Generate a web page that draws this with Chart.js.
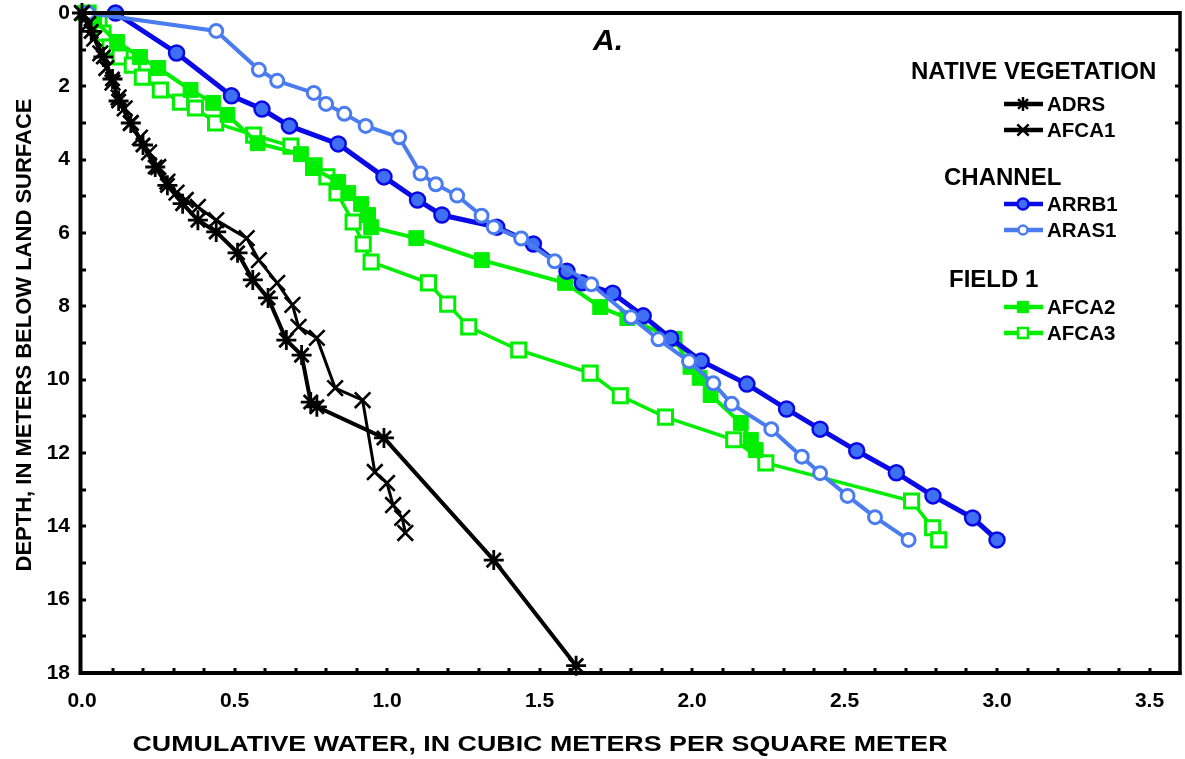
<!DOCTYPE html>
<html>
<head>
<meta charset="utf-8">
<script src="https://cdn.jsdelivr.net/npm/chart.js@4.4.0/dist/chart.umd.min.js"></script>
<style>
  html, body { margin: 0; padding: 0; background: #fff; overflow: hidden; }
  canvas { display: block; }
</style>
</head>
<body>
<canvas id="c" width="1185" height="759"></canvas>
<script>
// Cumulative water (m3/m2) against depth below land surface (m)
const adrsWater   = [0.00, 0.03, 0.07, 0.10, 0.12, 0.16, 0.20, 0.24, 0.28, 0.33, 0.38, 0.44, 0.51, 0.56, 0.61, 0.67, 0.72, 0.75, 0.77, 0.99, 1.35, 1.62];
const adrsDepth   = [0.00, 0.50, 1.20, 1.80, 2.40, 3.00, 3.60, 4.20, 4.70, 5.20, 5.65, 5.97, 6.54, 7.28, 7.77, 8.92, 9.33, 10.61, 10.74, 11.59, 14.92, 17.80];

const afca1Water  = [0.00, 0.02, 0.04, 0.06, 0.08, 0.10, 0.12, 0.14, 0.16, 0.19, 0.22, 0.25, 0.28, 0.31, 0.34, 0.38, 0.44, 0.54, 0.58, 0.64, 0.69, 0.71, 0.77, 0.83, 0.92, 0.96, 1.00, 1.02, 1.05, 1.06];
const afca1Depth  = [0.00, 0.30, 0.70, 1.10, 1.50, 1.90, 2.30, 2.60, 3.00, 3.40, 3.80, 4.20, 4.60, 4.90, 5.10, 5.29, 5.65, 6.14, 6.74, 7.36, 7.96, 8.56, 8.86, 10.23, 10.56, 12.52, 12.82, 13.42, 13.77, 14.18];

const arrb1Water  = [0.11, 0.31, 0.49, 0.59, 0.68, 0.84, 0.99, 1.10, 1.18, 1.36, 1.48, 1.59, 1.64, 1.74, 1.84, 1.93, 2.03, 2.18, 2.31, 2.42, 2.54, 2.67, 2.79, 2.92, 3.00];
const arrb1Depth  = [0.00, 1.09, 2.26, 2.62, 3.08, 3.57, 4.47, 5.10, 5.51, 5.84, 6.30, 7.04, 7.36, 7.64, 8.26, 8.87, 9.49, 10.12, 10.80, 11.35, 11.94, 12.54, 13.17, 13.77, 14.37];

const aras1Water  = [0.02, 0.44, 0.58, 0.64, 0.76, 0.80, 0.86, 0.93, 1.04, 1.11, 1.16, 1.23, 1.31, 1.35, 1.44, 1.55, 1.67, 1.80, 1.89, 1.99, 2.07, 2.13, 2.26, 2.36, 2.42, 2.51, 2.60, 2.71];
const aras1Depth  = [0.00, 0.49, 1.55, 1.85, 2.18, 2.48, 2.75, 3.08, 3.39, 4.38, 4.67, 4.98, 5.53, 5.84, 6.15, 6.77, 7.40, 8.30, 8.90, 9.50, 10.10, 10.66, 11.35, 12.10, 12.55, 13.17, 13.75, 14.37];

const afca2Water  = [0.01, 0.04, 0.115, 0.19, 0.25, 0.356, 0.43, 0.477, 0.576, 0.718, 0.757, 0.84, 0.873, 0.915, 0.938, 0.948, 1.096, 1.311, 1.584, 1.699, 1.788, 1.943, 1.995, 2.025, 2.061, 2.16, 2.193, 2.209];
const afca2Depth  = [0.00, 0.20, 0.79, 1.20, 1.50, 2.10, 2.45, 2.78, 3.55, 3.85, 4.23, 4.61, 4.91, 5.21, 5.51, 5.84, 6.14, 6.74, 7.36, 8.02, 8.32, 8.89, 9.65, 9.95, 10.42, 11.18, 11.64, 11.92];

const afca3Water  = [0.02, 0.056, 0.069, 0.092, 0.125, 0.165, 0.198, 0.257, 0.323, 0.372, 0.438, 0.563, 0.685, 0.761, 0.803, 0.836, 0.889, 0.922, 0.948, 1.136, 1.199, 1.268, 1.432, 1.666, 1.765, 1.913, 2.137, 2.242, 2.72, 2.789, 2.809];
const afca3Depth  = [0.00, 0.27, 0.55, 0.93, 1.20, 1.42, 1.75, 2.10, 2.43, 2.59, 3.00, 3.33, 3.63, 4.17, 4.47, 4.91, 5.70, 6.30, 6.79, 7.36, 7.94, 8.56, 9.19, 9.82, 10.44, 11.02, 11.64, 12.27, 13.31, 14.04, 14.37];

const xTickValues = [0, 0.5, 1.0, 1.5, 2.0, 2.5, 3.0, 3.5];
const yTickValues = [0, 2, 4, 6, 8, 10, 12, 14, 16, 18];

const legendGroups = [
  { title: 'NATIVE VEGETATION', members: ['ADRS', 'AFCA1'] },
  { title: 'CHANNEL', members: ['ARRB1', 'ARAS1'] },
  { title: 'FIELD 1', members: ['AFCA2', 'AFCA3'] }
];

const FONT = '"Liberation Sans", Arial, Helvetica, sans-serif';
const toPoints = (xs, ys) => xs.map((x, i) => ({ x: x, y: ys[i] }));

const BLACK = '#000000';
const DARK_BLUE = '#0a0ae6';
const DARK_BLUE_FILL = '#3f6ff2';
const LIGHT_BLUE = '#4a7cf0';
const GREEN = '#00ee00';

const datasets = [
  { label: 'ADRS', data: toPoints(adrsWater, adrsDepth), borderColor: BLACK, backgroundColor: BLACK,
    borderWidth: 4, pointStyle: 'star', pointRadius: 10, pointBorderWidth: 2.8, pointBorderColor: BLACK,
    legendRadius: 7 },
  { label: 'AFCA1', data: toPoints(afca1Water, afca1Depth), borderColor: BLACK, backgroundColor: BLACK,
    borderWidth: 3, pointStyle: 'crossRot', pointRadius: 11, pointBorderWidth: 2.6, pointBorderColor: BLACK,
    legendRadius: 8 },
  { label: 'ARAS1', data: toPoints(aras1Water, aras1Depth), borderColor: LIGHT_BLUE, backgroundColor: '#ffffff',
    borderWidth: 4, pointStyle: 'circle', pointRadius: 6.5, pointBorderWidth: 3, pointBorderColor: LIGHT_BLUE, pointBackgroundColor: '#ffffff',
    legendRadius: 4.5 },
  { label: 'ARRB1', data: toPoints(arrb1Water, arrb1Depth), borderColor: DARK_BLUE, backgroundColor: DARK_BLUE_FILL,
    borderWidth: 5, pointStyle: 'circle', pointRadius: 7.5, pointBorderWidth: 2.5, pointBorderColor: DARK_BLUE, pointBackgroundColor: DARK_BLUE_FILL,
    legendRadius: 5.5 },
  { label: 'AFCA2', data: toPoints(afca2Water, afca2Depth), borderColor: GREEN, backgroundColor: GREEN,
    borderWidth: 4, pointStyle: 'rect', pointRadius: 10.5, pointBorderWidth: 1, pointBorderColor: GREEN, pointBackgroundColor: GREEN,
    legendRadius: 8 },
  { label: 'AFCA3', data: toPoints(afca3Water, afca3Depth), borderColor: GREEN, backgroundColor: '#ffffff',
    borderWidth: 3.5, pointStyle: 'rect', pointRadius: 10, pointBorderWidth: 3, pointBorderColor: GREEN, pointBackgroundColor: '#ffffff',
    legendRadius: 7 }
].map(d => Object.assign({ showLine: true, tension: 0, clip: false, pointHoverRadius: d.pointRadius }, d));

// Frame, inward tick marks, panel letter, axis titles and grouped legend
const decorations = {
  id: 'decorations',
  afterDraw(chart) {
    const { ctx, chartArea: a, scales: { x, y } } = chart;
    ctx.save();
    ctx.strokeStyle = '#000';
    ctx.lineCap = 'butt';

    // frame
    ctx.lineWidth = 4;
    ctx.beginPath();
    ctx.moveTo(a.left - 1.5, a.top);
    ctx.lineTo(a.right, a.top);
    ctx.moveTo(a.left - 1.5, a.top - 2);
    ctx.lineTo(a.left - 1.5, a.bottom + 2);
    ctx.moveTo(a.left - 3.5, a.bottom);
    ctx.lineTo(a.right + 1.5, a.bottom);
    ctx.stroke();
    ctx.lineWidth = 3.5;
    ctx.beginPath();
    ctx.moveTo(a.right, a.top - 2);
    ctx.lineTo(a.right, a.bottom + 2);
    ctx.stroke();

    // inward minor ticks
    ctx.lineWidth = 3;
    ctx.beginPath();
    for (let k = 1; k < 36; k++) {
      const px = Math.round(x.getPixelForValue(k / 10));
      ctx.moveTo(px, a.bottom);
      ctx.lineTo(px, a.bottom - 5);
    }
    for (let k = 1; k < 18; k++) {
      const py = Math.round(y.getPixelForValue(k));
      ctx.moveTo(a.left, py);
      ctx.lineTo(a.left + 4, py);
      ctx.moveTo(a.right, py);
      ctx.lineTo(a.right - 5, py);
    }
    ctx.stroke();

    // panel letter
    ctx.fillStyle = '#000';
    ctx.textBaseline = 'middle';
    ctx.textAlign = 'center';
    ctx.font = 'italic bold 30px ' + FONT;
    ctx.fillText('A.', 608, 42);

    // axis titles
    ctx.font = 'bold 22px ' + FONT;
    const xTitle = 'CUMULATIVE WATER, IN CUBIC METERS PER SQUARE METER';
    const stretch = 815 / ctx.measureText(xTitle).width;
    ctx.save();
    ctx.translate(540, 745);
    ctx.scale(stretch, 1);
    ctx.fillText(xTitle, 0, 0);
    ctx.restore();
    ctx.save();
    ctx.translate(25, 335);
    ctx.rotate(-Math.PI / 2);
    ctx.fillText('DEPTH, IN METERS BELOW LAND SURFACE', 0, 0);
    ctx.restore();

    // grouped legend
    const headX = [911, 944, 949];
    const headY = [72, 178, 280];
    const itemY = [[104, 130], [204, 230], [307, 333]];
    legendGroups.forEach((g, gi) => {
      ctx.textAlign = 'left';
      ctx.font = 'bold 24px ' + FONT;
      ctx.fillStyle = '#000';
      ctx.fillText(g.title, headX[gi], headY[gi]);
      g.members.forEach((name, mi) => {
        const ds = chart.data.datasets.find(d => d.label === name);
        const yy = itemY[gi][mi];
        ctx.strokeStyle = ds.borderColor;
        ctx.lineWidth = 4.5;
        ctx.beginPath();
        ctx.moveTo(1004, yy);
        ctx.lineTo(1043, yy);
        ctx.stroke();
        ctx.strokeStyle = ds.pointBorderColor;
        ctx.fillStyle = ds.pointBackgroundColor || ds.backgroundColor;
        ctx.lineWidth = Math.min(ds.pointBorderWidth, 2.5);
        Chart.helpers.drawPoint(ctx, { pointStyle: ds.pointStyle, rotation: 0,
          radius: ds.legendRadius, borderWidth: ctx.lineWidth }, 1023, yy);
        ctx.fillStyle = '#000';
        ctx.font = 'bold 20.5px ' + FONT;
        ctx.fillText(name, 1047, yy + 1);
      });
    });
    ctx.restore();
  }
};

// keep the plot box fixed: no extra room for overhanging end labels
function noOverhang(s) {
  s.paddingTop = 0; s.paddingBottom = 0; s.paddingLeft = 0; s.paddingRight = 0;
}

new Chart(document.getElementById('c'), {
  type: 'scatter',
  data: { datasets: datasets },
  options: {
    responsive: false,
    animation: false,
    events: [],
    layout: { autoPadding: false, padding: { top: 13, right: 5, left: 0, bottom: 0 } },
    plugins: { legend: { display: false }, tooltip: { enabled: false } },
    scales: {
      x: {
        type: 'linear', min: 0, max: 3.6,
        afterFit(s) { s.height = 86; noOverhang(s); },
        afterBuildTicks(s) { s.ticks = xTickValues.map(v => ({ value: v })); },
        grid: { display: false, drawTicks: false },
        border: { display: false },
        ticks: {
          autoSkip: false, maxRotation: 0, padding: 16, color: '#000',
          font: { family: FONT, size: 21, weight: 'bold' },
          callback: v => Number(v).toFixed(1)
        }
      },
      y: {
        type: 'linear', min: 0, max: 18, reverse: true,
        afterFit(s) { s.width = 82; noOverhang(s); },
        afterBuildTicks(s) { s.ticks = yTickValues.map(v => ({ value: v })); },
        grid: { display: false, drawTicks: false },
        border: { display: false },
        ticks: {
          autoSkip: false, padding: 12, color: '#000',
          font: { family: FONT, size: 21, weight: 'bold' },
          callback: v => String(v)
        }
      }
    }
  },
  plugins: [decorations]
});
</script>
</body>
</html>
